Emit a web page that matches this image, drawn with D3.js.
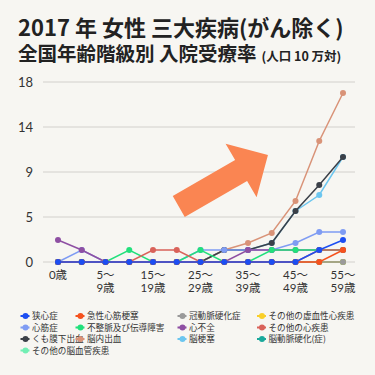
<!DOCTYPE html>
<html>
<head>
<meta charset="utf-8">
<script src="https://cdn.jsdelivr.net/npm/d3@7"></script>
<style>
  body { margin: 0; background: #f7f6f2; }
  svg { display: block; }
</style>
</head>
<body>
<svg id="chart"></svg>
<script>
// age groups (x axis)
const ages = ["0歳","1～4歳","5～9歳","10～14歳","15～19歳","20～24歳","25～29歳",
              "30～34歳","35～39歳","40～44歳","45～49歳","50～54歳","55～59歳"];
// which age labels are printed, split in two lines
const ageLabels = [["0歳"],null,["5～","9歳"],null,["15～","19歳"],null,["25～","29歳"],
                   null,["35～","39歳"],null,["45～","49歳"],null,["55～","59歳"]];

const yTicks = [0, 4.5, 9, 13.5, 18];
const yTickLabels = ["0","5","9","14","18"];

// series names + colours (legend order)
const names = ["狭心症","急性心筋梗塞","冠動脈硬化症","その他の虚血性心疾患",
               "心筋症","不整脈及び伝導障害","心不全","その他の心疾患",
               "くも膜下出血","脳内出血","脳梗塞","脳動脈硬化(症)",
               "その他の脳血管疾患"];
const colors = ["#1c4ef2","#f5521e","#9a9a9a","#f9cf2a",
                "#7f9cf3","#22e07c","#8e4fa3","#d9625a",
                "#3b4048","#d99378","#6cc6ef","#1aa99c",
                "#72efb4"];

// values
const kyoshin   = [0,0,0,0,0,0,0,0,0,0,0,1.2,2.2];
const kyusei    = [0,0,0,0,0,0,0,0,0,0,0,0,1.2];
const kandomyaku= [0,0,0,0,0,0,0,0,0,0,0,0,0];
const kyoketsu  = [0,0,0,0,0,0,0,0,0,0,0,0,0];
const shinkin   = [0,1.2,0,0,0,0,1.2,1.2,1.2,1.2,1.9,3.0,3.0];
const fuseimyaku= [0,0,0,1.2,0,0,1.2,0,0,1.2,1.2,1.2,1.2];
const shinfuzen = [2.2,1.2,0,0,0,0,0,0,1.2,1.2,1.2,1.2,1.2];
const shinOther = [0,0,0,0,1.2,1.2,0,0,0,0,0,1.2,1.2];
const kumomaku  = [0,0,0,0,0,0,0,1.2,1.2,1.9,5.1,7.7,10.5];
const nonai     = [0,0,0,0,0,0,0,1.2,1.9,2.9,6.1,12.1,16.9];
const noukousoku= [0,0,0,0,0,0,0,1.2,1.2,1.9,5.1,6.7,10.5];
const noudomyaku= [0,0,0,0,0,0,0,0,0,0,0,0,0];
const nouOther  = [0,0,0,0,0,0,0,0,0,0,0,0,0];

const values = [kyoshin,kyusei,kandomyaku,kyoketsu,shinkin,fuseimyaku,shinfuzen,
                shinOther,kumomaku,nonai,noukousoku,noudomyaku,nouOther];

// bottom -> top
const drawOrder = [12,11,10,9,8,4,6,5,7,3,2,1,0];

const W = 375, H = 375;
const svg = d3.select("#chart").attr("width", W).attr("height", H);
svg.append("rect").attr("width", W).attr("height", H).attr("fill", "#f7f6f2");

const font = "Lato, 'Noto Sans CJK JP', sans-serif";

// title
const title = svg.append("g").attr("font-family", "'Noto Sans CJK JP', sans-serif")
  .attr("font-weight", 700).attr("fill", "#222");
title.append("text").attr("x", 18).attr("y", 36).attr("font-size", 22)
  .text("2017 年 女性 三大疾病(がん除く)");
const t2 = title.append("text").attr("x", 18).attr("y", 61).attr("font-size", 19.5);
t2.append("tspan").text("全国年齢階級別 入院受療率");
t2.append("tspan").attr("font-size", 12.5).attr("dx", 5).text("(人口 10 万対)");

const x = d3.scalePoint().domain(ages).range([58, 343]);
const y = d3.scaleLinear().domain([0, 18]).range([262, 82]);

// grid
svg.append("g").selectAll("line").data(yTicks).join("line")
  .attr("x1", 43).attr("x2", 355)
  .attr("y1", d => y(d)).attr("y2", d => y(d))
  .attr("stroke", "#d2d0cc").attr("stroke-width", 1);

svg.append("g").selectAll("text").data(yTicks).join("text")
  .attr("x", 33).attr("y", d => y(d)).attr("dy", "0.35em")
  .attr("text-anchor", "end").attr("font-family", font)
  .attr("font-size", 13).attr("fill", "#333")
  .text((d, i) => yTickLabels[i]);

// x labels
const xl = svg.append("g").attr("font-family", font).attr("font-size", 11.5)
  .attr("fill", "#333").attr("text-anchor", "middle");
ages.forEach((a, i) => {
  if (!ageLabels[i]) return;
  ageLabels[i].forEach((s, j) => {
    xl.append("text").attr("x", x(a)).attr("y", 279 + j * 13).text(s);
  });
});

// arrow (annotation)
const arrow = svg.append("g")
  .attr("transform", `translate(${x(ages[5]) + 2},${y(5.55)}) rotate(-30)`);
arrow.append("path")
  .attr("d", "M0,-12 L72,-12 L72,-31 L103,0 L72,31 L72,12 L0,12 Z")
  .attr("fill", "#fa8552");

// lines
const line = d3.line().x((d, i) => x(ages[i])).y(d => y(d));
drawOrder.forEach(k => {
  const g = svg.append("g");
  g.append("path").datum(values[k]).attr("d", line)
    .attr("fill", "none").attr("stroke", colors[k]).attr("stroke-width", 1.5);
  g.selectAll("circle").data(values[k]).join("circle")
    .attr("cx", (d, i) => x(ages[i])).attr("cy", d => y(d))
    .attr("r", 3).attr("fill", colors[k]);
});

// legend
const colX = [25.5, 80.5, 182.5, 262];
const leg = svg.append("g").attr("font-family", "'Noto Sans CJK JP', sans-serif")
  .attr("font-size", 8.6).attr("fill", "#333");
names.forEach((n, i) => {
  const cx = colX[i % 4], cy = 316 + Math.floor(i / 4) * 11.5;
  leg.append("line").attr("x1", cx - 5).attr("x2", cx + 4).attr("y1", cy).attr("y2", cy)
    .attr("stroke", colors[i]).attr("stroke-width", 2);
  leg.append("circle").attr("cx", cx).attr("cy", cy).attr("r", 3).attr("fill", colors[i]);
  leg.append("text").attr("x", cx + 6.5).attr("y", cy).attr("dy", "0.35em").text(n);
});
</script>
</body>
</html>
